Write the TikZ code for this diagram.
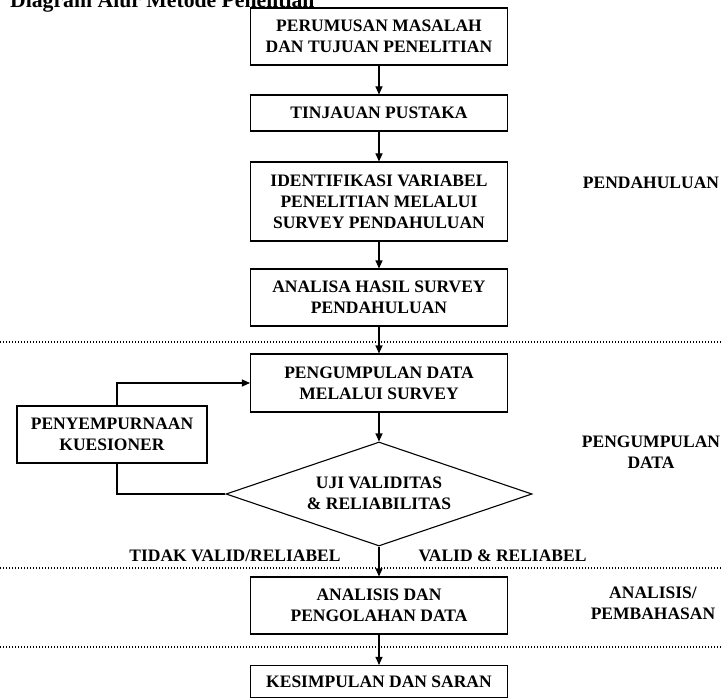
\documentclass[tikz,border=0pt]{standalone}
\usepackage{fontspec}
\setmainfont{Liberation Serif}
\usetikzlibrary{arrows.meta,shapes.geometric}
\begin{document}
\begin{tikzpicture}[x=1pt,y=-1pt,
  boxtxt/.style={font=\bfseries\fontsize{17.5}{21}\selectfont},
  box/.style={boxtxt, draw, line width=1.1pt, fill=white, minimum width=257pt, align=center, inner sep=0pt},
  lbl/.style={boxtxt, align=center, inner sep=0pt},
  conn/.style={line width=1.1pt},
  arr/.style={line width=1.1pt, -{Triangle[length=8pt,width=7pt]}},
  sepline/.style={line width=1.4pt, dash pattern=on 1.2pt off 1.8pt}]
\useasboundingbox (0,0) rectangle (723,698);
\fill[white] (0,0) rectangle (723,698);

% title (cut off at top)
\node[anchor=base west, inner sep=0pt, font=\bfseries\fontsize{21.7}{24}\selectfont] (title) at (10,7.5) {Diagram Alur Metode Penelitian};

% separators
\coordinate (s1l) at (0,342); \coordinate (s1r) at (723,342);
\coordinate (s2l) at (0,568); \coordinate (s2r) at (723,568);
\coordinate (s3l) at (0,647); \coordinate (s3r) at (723,647);
\draw[sepline] (s1l) -- (s1r);
\draw[sepline] (s2l) -- (s2r);
\draw[sepline] (s3l) -- (s3r);

% main boxes
\node[box, minimum height=57pt] (b1) at (379,36.5) {PERUMUSAN MASALAH\\DAN TUJUAN PENELITIAN};
\node[box, minimum height=36pt] (b2) at (379,113) {TINJAUAN PUSTAKA};
\node[box, minimum height=79pt] (b3) at (379,201.5) {IDENTIFIKASI VARIABEL\\PENELITIAN MELALUI\\SURVEY PENDAHULUAN};
\node[box, minimum height=57pt] (b4) at (379,297.5) {ANALISA HASIL SURVEY\\PENDAHULUAN};
\node[box, minimum height=58pt] (b5) at (379,383) {PENGUMPULAN DATA\\MELALUI SURVEY};
\node[diamond, draw, line width=1.1pt, fill=white, minimum width=306pt, minimum height=104pt, inner sep=0pt] (d) at (379,494) {};
\node[lbl] (dtxt) at (379,493) {UJI VALIDITAS\\\& RELIABILITAS};
\node[box, minimum height=57pt] (b6) at (379,605.5) {ANALISIS DAN\\PENGOLAHAN DATA};
\node[box, minimum height=32pt] (b7) at (379,681.5) {KESIMPULAN DAN SARAN};

% feedback box
\node[box, minimum width=190pt, minimum height=57pt] (p) at (112,434.5) {PENYEMPURNAAN\\KUESIONER};

% side labels
\node[lbl] (l1) at (651,183) {PENDAHULUAN};
\node[lbl] (l2) at (651,452) {PENGUMPULAN\\DATA};
\node[lbl] (l3) at (653,603.5) {ANALISIS/\\PEMBAHASAN};
\node[lbl] (no) at (235,556) {TIDAK VALID/RELIABEL};
\node[lbl] (yes) at (502.5,556) {VALID \& RELIABEL};

% arrows
\draw[arr] (b1) -- (b2);
\draw[arr] (b2) -- (b3);
\draw[arr] (b3) -- (b4);
\draw[arr] (b4) -- (b5);
\draw[arr] (b5) -- (d);
\draw[arr] (d) -- (b6);
\draw[arr] (b6) -- (b7);

% feedback loop
\coordinate (f1) at (117,494);
\coordinate (f2) at (117,383);
\draw[conn] (d.west) -- (f1) -- (p.south -| f1);
\draw[arr] (p.north -| f2) -- (f2) -- (b5.west);
\end{tikzpicture}
\end{document}
